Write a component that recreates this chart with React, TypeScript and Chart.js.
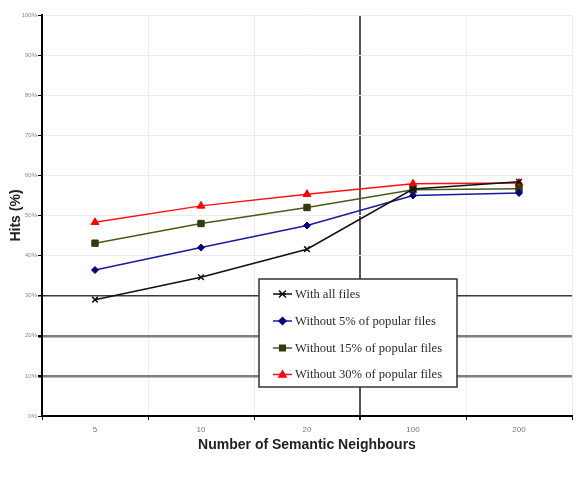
import React, { useEffect, useRef } from "react";
import { Chart, registerables } from "chart.js";
Chart.register(...registerables);

const categories = ["5", "10", "20", "100", "200"];
const withAll = [29.0, 34.6, 41.6, 56.6, 58.4];
const without5 = [36.4, 42.0, 47.5, 55.0, 55.6];
const without15 = [43.1, 48.0, 52.0, 56.4, 56.7];
const without30 = [48.3, 52.4, 55.3, 57.9, 58.1];
const seriesLabels = [
  "With all files",
  "Without 5% of popular files",
  "Without 15% of popular files",
  "Without 30% of popular files",
];
const yTickValues = [0, 10, 20, 30, 40, 50, 60, 70, 80, 90, 100];

function drawMarker(ctx: CanvasRenderingContext2D, style: string, x: number, y: number, r: number) {
  ctx.beginPath();
  if (style === "crossRot") {
    ctx.moveTo(x - r, y - r);
    ctx.lineTo(x + r, y + r);
    ctx.moveTo(x + r, y - r);
    ctx.lineTo(x - r, y + r);
    ctx.moveTo(x - r, y);
    ctx.lineTo(x + r, y);
    ctx.stroke();
  } else if (style === "rectRot") {
    ctx.moveTo(x, y - r);
    ctx.lineTo(x + r, y);
    ctx.lineTo(x, y + r);
    ctx.lineTo(x - r, y);
    ctx.closePath();
    ctx.fill();
    ctx.stroke();
  } else if (style === "rect") {
    ctx.rect(x - r * 0.8, y - r * 0.8, r * 1.6, r * 1.6);
    ctx.fill();
    ctx.stroke();
  } else {
    ctx.moveTo(x, y - r);
    ctx.lineTo(x + r, y + r * 0.7);
    ctx.lineTo(x - r, y + r * 0.7);
    ctx.closePath();
    ctx.fill();
    ctx.stroke();
  }
}

const legendBox = {
  id: "legendBox",
  afterDatasetsDraw(chart: any) {
    const ctx = chart.ctx;
    const x0 = 259, y0 = 279, w = 198, h = 108;
    ctx.save();
    ctx.fillStyle = "#ffffff";
    ctx.fillRect(x0, y0, w, h);
    ctx.strokeStyle = "#333333";
    ctx.lineWidth = 1.5;
    ctx.strokeRect(x0, y0, w, h);
    const rows = [294, 321, 348, 374.5];
    chart.data.datasets.forEach((ds: any, i: number) => {
      const y = rows[i];
      ctx.strokeStyle = ds.borderColor;
      ctx.lineWidth = 1.5;
      ctx.beginPath();
      ctx.moveTo(273, y);
      ctx.lineTo(292, y);
      ctx.stroke();
      ctx.fillStyle = ds.pointBackgroundColor;
      ctx.strokeStyle = ds.pointBorderColor;
      ctx.lineWidth = 1.5;
      drawMarker(ctx, ds.pointStyle, 282.5, y, 3.5);
      ctx.fillStyle = "#2a2a2a";
      ctx.font = "12.6px 'Liberation Serif', 'DejaVu Serif', serif";
      ctx.textBaseline = "middle";
      ctx.textAlign = "left";
      ctx.fillText(ds.label, 295, y + 0.5);
    });
    ctx.restore();
  },
};

export default function App() {
  const ref = useRef<HTMLCanvasElement | null>(null);
  useEffect(() => {
    document.body.style.margin = "0";
    if (!ref.current) return;
    const chart = new Chart(ref.current, {
      type: "line",
      data: {
        labels: categories,
        datasets: [
          {
            label: seriesLabels[0],
            data: withAll,
            borderColor: "#111111",
            pointBackgroundColor: "#111111",
            pointBorderColor: "#111111",
            pointStyle: "crossRot",
            pointRadius: 4,
            borderWidth: 1.5,
            pointBorderWidth: 1.5,
          },
          {
            label: seriesLabels[1],
            data: without5,
            borderColor: "#1a1aa0",
            pointBackgroundColor: "#000080",
            pointBorderColor: "#000080",
            pointStyle: "rectRot",
            pointRadius: 3.5,
            borderWidth: 1.5,
            pointBorderWidth: 1,
          },
          {
            label: seriesLabels[2],
            data: without15,
            borderColor: "#4a5a1a",
            pointBackgroundColor: "#2e3b0a",
            pointBorderColor: "#2e3b0a",
            pointStyle: "rect",
            pointRadius: 4.5,
            borderWidth: 1.5,
            pointBorderWidth: 1,
          },
          {
            label: seriesLabels[3],
            data: without30,
            borderColor: "#ff1010",
            pointBackgroundColor: "#ff0000",
            pointBorderColor: "#ff0000",
            pointStyle: "triangle",
            pointRadius: 4.5,
            borderWidth: 1.5,
            pointBorderWidth: 1,
          },
        ],
      },
      options: {
        animation: false,
        responsive: false,
        layout: { padding: { top: 15, right: 6, bottom: 29.5, left: 0 } },
        plugins: {
          legend: { display: false },
          tooltip: { enabled: false },
        },
        scales: {
          x: {
            offset: true,
            afterFit: (s: any) => {
              s.height = 37.5;
            },
            grid: {
              offset: true,
              color: (c: any) => (c.index === 3 ? "#555555" : "#ececec"),
              lineWidth: (c: any) => (c.index === 3 ? 2 : 1),
              tickColor: "#000000",
              tickLength: 4,
            },
            border: { color: "#000000", width: 2 },
            ticks: {
              color: "#777777",
              font: { family: "'Liberation Sans', Arial, sans-serif", size: 8 },
              padding: 5,
            },
            title: {
              display: true,
              text: "Number of Semantic Neighbours",
              color: "#222222",
              font: { family: "'Liberation Sans', Arial, sans-serif", size: 14, weight: "bold" },
              padding: { top: 0, bottom: 0 },
            },
          },
          y: {
            min: 0,
            max: 100,
            afterFit: (s: any) => {
              s.width = 42;
            },
            afterBuildTicks: (s: any) => {
              s.ticks = yTickValues.map((v) => ({ value: v }));
            },
            grid: {
              color: (c: any) => {
                const v = c.tick ? c.tick.value : -1;
                if (v === 30) return "#3a3a3a";
                if (v === 20 || v === 10) return "#808080";
                return "#ececec";
              },
              lineWidth: (c: any) => {
                const v = c.tick ? c.tick.value : -1;
                if (v === 30) return 1.5;
                if (v === 20 || v === 10) return 2.5;
                return 1;
              },
              tickColor: "#000000",
              tickLength: 4,
            },
            border: { color: "#000000", width: 2 },
            ticks: {
              color: "#888888",
              font: { family: "'Liberation Sans', Arial, sans-serif", size: 6 },
              padding: 1,
              callback: (v: any) => v + "%",
            },
            title: {
              display: true,
              text: "Hits (%)",
              color: "#222222",
              font: { family: "'Liberation Sans', Arial, sans-serif", size: 14, weight: "bold" },
              padding: { top: 8, bottom: 0 },
            },
          },
        },
      },
      plugins: [legendBox],
    } as any);
    return () => chart.destroy();
  }, []);
  return <canvas ref={ref} width={578} height={483} style={{ display: "block" }} />;
}
